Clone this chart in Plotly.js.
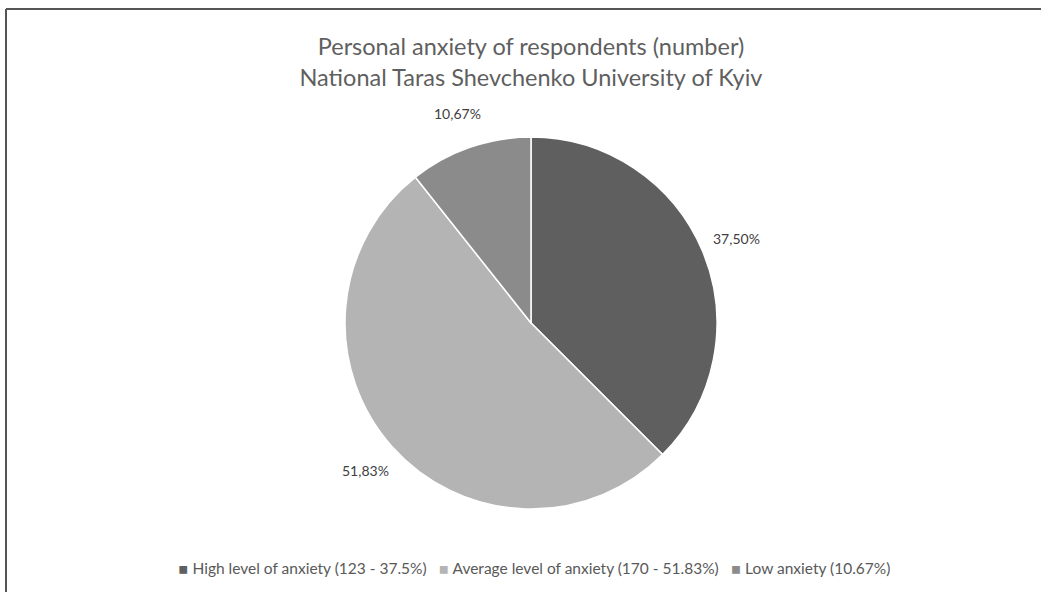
<!DOCTYPE html>
<html>
<head>
<meta charset="utf-8">
<script src="https://cdn.plot.ly/plotly-3.0.1.min.js"></script>
<style>
  html, body { margin: 0; padding: 0; background: #ffffff; }
  #chart { width: 1041px; height: 592px; }
</style>
</head>
<body>
<div id="chart"></div>
<script>
// Personal anxiety levels: number of respondents per group
const categories = [
  'High level of anxiety (123 - 37.5%)',
  'Average level of anxiety (170 - 51.83%)',
  'Low anxiety (10.67%)'
];
const respondents = [123, 170, 35];
const sliceColors = ['#5f5f5f', '#b4b4b4', '#8b8b8b'];

const W = 1041, H = 592;
const cx = 531, cy = 323, r = 186;
const labelRadius = 222;
const FONT = 'Lato, "Open Sans", sans-serif';

const total = respondents.reduce((a, b) => a + b, 0);

const pie = {
  type: 'pie',
  labels: categories,
  values: respondents,
  sort: false,
  direction: 'clockwise',
  rotation: 0,
  marker: { colors: sliceColors, line: { color: '#ffffff', width: 1.5 } },
  textinfo: 'none',
  automargin: false,
  domain: {
    x: [(cx - r) / W, (cx + r) / W],
    y: [(H - cy - r) / H, (H - cy + r) / H]
  },
  showlegend: false
};

// Percentage labels placed just outside each slice, at the slice's mid-angle
let cum = 0;
const sliceLabels = respondents.map((v) => {
  const mid = (cum + v / 2) / total;
  cum += v;
  const theta = 2 * Math.PI * mid;
  const px = cx + labelRadius * Math.sin(theta);
  const py = cy - labelRadius * Math.cos(theta);
  return {
    xref: 'paper', yref: 'paper',
    x: px / W, y: 1 - py / H,
    xanchor: 'center', yanchor: 'middle',
    showarrow: false,
    text: (v / total * 100).toFixed(2).replace('.', ',') + '%',
    font: { family: FONT, size: 14, color: '#404040' }
  };
});

// Bottom legend: small coloured square keys followed by the category names
const legendText = categories.map((name, i) =>
  '<span style="color:' + sliceColors[i] + ';font-family:DejaVu Sans">▪</span> ' + name
).join('&nbsp;&nbsp;&nbsp;');

const legendNote = {
  xref: 'paper', yref: 'paper',
  x: 534 / W, y: 1 - 568 / H,
  xanchor: 'center', yanchor: 'middle',
  showarrow: false,
  text: legendText,
  font: { family: FONT, size: 15.5, color: '#595959' }
};

const layout = {
  width: W,
  height: H,
  margin: { l: 0, r: 0, t: 0, b: 0 },
  paper_bgcolor: '#ffffff',
  showlegend: false,
  title: {
    text: 'Personal anxiety of respondents (number)<br>National Taras Shevchenko University of Kyiv',
    x: 531 / W,
    xanchor: 'center',
    y: 1 - 55 / H,
    yanchor: 'top',
    font: { family: FONT, size: 23.5, color: '#5f5f5f' }
  },
  annotations: sliceLabels.concat([legendNote]),
  shapes: [
    { type: 'line', xref: 'paper', yref: 'paper', x0: 6 / W, x1: 1, y0: 1 - 9 / H, y1: 1 - 9 / H,
      line: { color: '#555555', width: 2 } },
    { type: 'line', xref: 'paper', yref: 'paper', x0: 6 / W, x1: 6 / W, y0: 0, y1: 1 - 9 / H,
      line: { color: '#555555', width: 2 } }
  ]
};

Plotly.newPlot('chart', [pie], layout, { displayModeBar: false, staticPlot: true });
</script>
</body>
</html>
